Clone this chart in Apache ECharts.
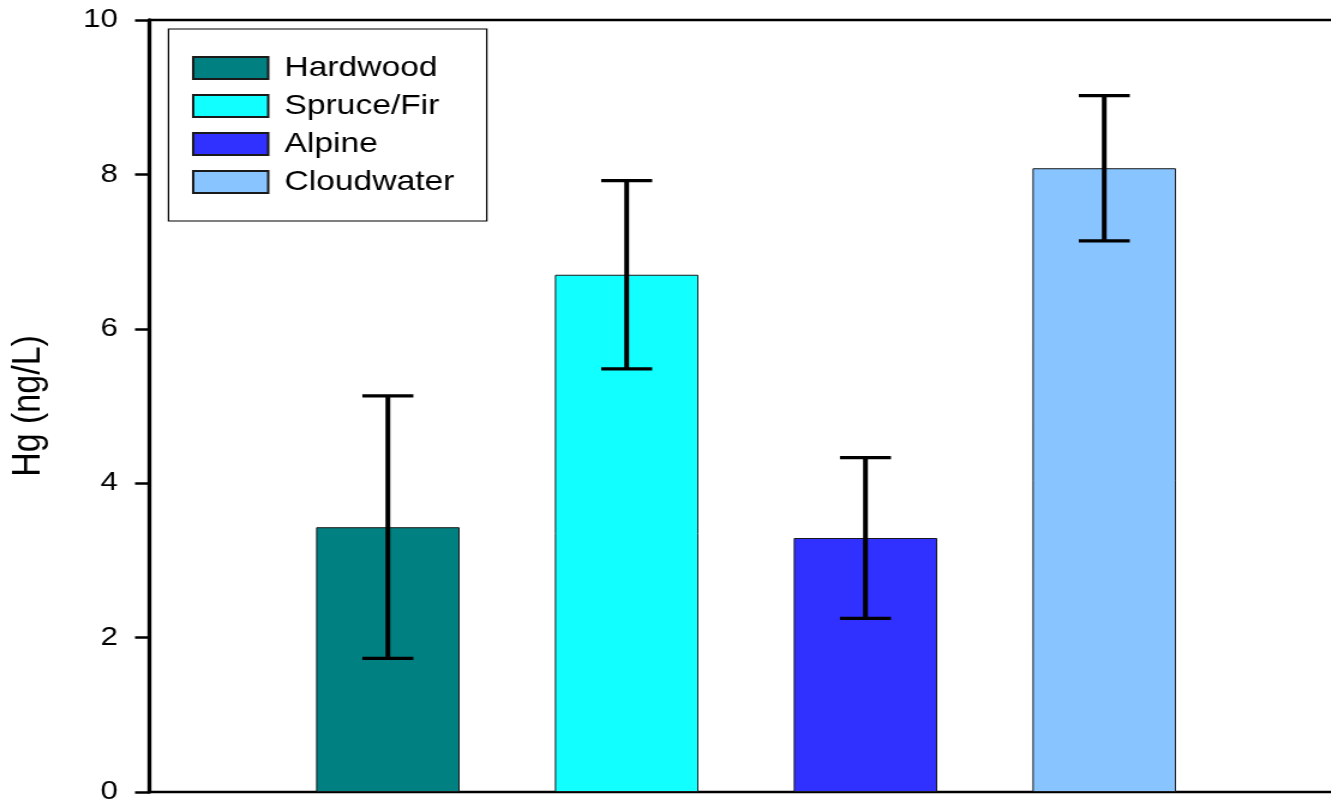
<!DOCTYPE html>
<html>
<head>
<meta charset="utf-8">
<script src="https://cdn.jsdelivr.net/npm/echarts@6/dist/echarts.min.js"></script>
<style>
  html, body { margin: 0; padding: 0; background: #fff; overflow: hidden; }
  /* chart is laid out narrow and widened horizontally */
  #chart { width: 1110px; height: 805px; transform: scaleX(1.2); transform-origin: 0 0; }
</style>
</head>
<body>
<div id="chart"></div>
<script>
// Mean Hg concentration by site type, with error bars
const categories = ['Hardwood', 'Spruce/Fir', 'Alpine', 'Cloudwater'];
const positions = [1, 2, 3, 4];
const means = [3.43, 6.70, 3.29, 8.08];
const errors = [1.70, 1.22, 1.04, 0.94];
const colors = ['#008080', '#12FFFF', '#3030FF', '#88C4FF'];
const yTicks = [0, 2, 4, 6, 8, 10];

const FONT = '"Liberation Sans", Arial, sans-serif';

const barSeries = categories.map((name, i) => ({
  name: name,
  type: 'bar',
  barWidth: 119.6,
  barGap: '-100%',
  itemStyle: { color: colors[i], borderColor: '#1a1a1a', borderWidth: 1 },
  data: [[positions[i], means[i]]],
  z: 2
}));

const errorData = categories.map((_, i) => [positions[i], means[i] - errors[i], means[i] + errors[i]]);

const errorSeries = {
  type: 'custom',
  name: 'error',
  data: errorData,
  encode: { x: 0, y: [1, 2] },
  z: 5,
  renderItem: function (params, api) {
    const x = api.value(0);
    const lo = api.coord([x, api.value(1)]);
    const hi = api.coord([x, api.value(2)]);
    const half = 21.25;
    return {
      type: 'group',
      children: [
        { type: 'line', shape: { x1: lo[0], y1: lo[1], x2: hi[0], y2: hi[1] }, style: { stroke: '#000', lineWidth: 4 } },
        { type: 'line', shape: { x1: hi[0] - half, y1: hi[1], x2: hi[0] + half, y2: hi[1] }, style: { stroke: '#000', lineWidth: 3.3 } },
        { type: 'line', shape: { x1: lo[0] - half, y1: lo[1], x2: lo[0] + half, y2: lo[1] }, style: { stroke: '#000', lineWidth: 3.3 } }
      ]
    };
  }
};

const chart = echarts.init(document.getElementById('chart'), null, { renderer: 'canvas' });
chart.setOption({
  animation: false,
  backgroundColor: '#fff',
  grid: { left: 124.2, top: 20, width: 995, height: 772, containLabel: false, outerBoundsMode: 'none' },
  legend: {
    data: categories,
    orient: 'vertical',
    left: 140.4,
    top: 29,
    icon: 'rect',
    itemWidth: 62.5,
    itemHeight: 22,
    itemGap: 10,
    padding: [25, 27, 25, 19.6],
    borderColor: '#000',
    borderWidth: 1.2,
    selectedMode: false,
    textStyle: { fontFamily: FONT, fontSize: 28, color: '#000', lineHeight: 28, padding: [0, 0, 0, 8.5] }
  },
  xAxis: [
    {
      type: 'value', min: 0, max: 5, position: 'bottom',
      axisLine: { show: true, onZero: false, lineStyle: { color: '#000', width: 2.4 } },
      axisTick: { show: false }, axisLabel: { show: false }, splitLine: { show: false }
    },
    {
      type: 'value', min: 0, max: 5, position: 'top',
      axisLine: { show: true, onZero: false, lineStyle: { color: '#000', width: 2.4 } },
      axisTick: { show: false }, axisLabel: { show: false }, splitLine: { show: false }
    }
  ],
  yAxis: {
    type: 'value',
    min: yTicks[0],
    max: yTicks[yTicks.length - 1],
    interval: 2,
    name: 'Hg (ng/L)',
    nameLocation: 'middle',
    nameGap: 83.5,
    nameTextStyle: { fontFamily: FONT, fontSize: 34, color: '#000' },
    axisLine: { show: true, lineStyle: { color: '#000', width: 3.3 } },
    axisTick: { show: true, inside: false, length: 11.7, lineStyle: { color: '#000', width: 2.5 } },
    axisLabel: { margin: 26, fontFamily: FONT, fontSize: 26, color: '#000' },
    splitLine: { show: false }
  },
  series: barSeries.concat([errorSeries])
});
</script>
</body>
</html>
